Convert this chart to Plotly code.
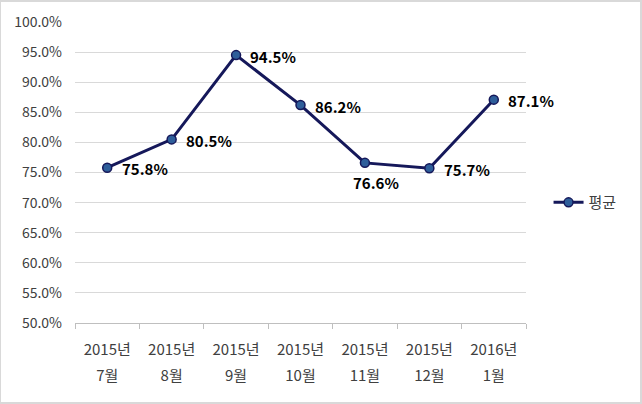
import plotly.graph_objects as go

years = ["2015년", "2015년", "2015년", "2015년", "2015년", "2015년", "2016년"]
months = ["7월", "8월", "9월", "10월", "11월", "12월", "1월"]
values = [0.758, 0.805, 0.945, 0.862, 0.766, 0.757, 0.871]
label_text = ["75.8%", "80.5%", "94.5%", "86.2%", "76.6%", "75.7%", "87.1%"]
label_dx = [13, 12, 12, 12, -14, 13, 12]
label_dy = [-1, -1, -1, -1, -20, -1, -1]
series_name = "평균"
y_ticks = [0.50 + 0.05 * i for i in range(11)]

n = len(values)
pos = list(range(n))
bounds = [i - 0.5 for i in range(n + 1)]
xr = [-0.5, n - 0.5]

font = "Noto Sans CJK KR, Malgun Gothic, sans-serif"

fig = go.Figure()
fig.add_trace(go.Scatter(
    x=pos, y=values, mode="lines+markers", name=series_name,
    line=dict(color="#15185A", width=3),
    marker=dict(size=9, color="#2E5E9A", line=dict(color="#15185A", width=1.5)),
))
# invisible helper traces for the label axes
fig.add_trace(go.Scatter(x=pos, y=values, xaxis="x2", mode="markers",
                         marker=dict(opacity=0), showlegend=False, hoverinfo="skip"))
fig.add_trace(go.Scatter(x=pos, y=values, xaxis="x3", mode="markers",
                         marker=dict(opacity=0), showlegend=False, hoverinfo="skip"))

for p, v, t, dx, dy in zip(pos, values, label_text, label_dx, label_dy):
    fig.add_annotation(x=p, y=v, text="<b>%s</b>" % t, showarrow=False,
                       xanchor="left", xshift=dx, yshift=dy,
                       font=dict(size=15, color="#000000", family=font))

tick_font = dict(size=15, color="#404040", family=font)
fig.update_layout(
    width=642, height=404,
    margin=dict(l=75, r=116, t=22, b=81),
    paper_bgcolor="white", plot_bgcolor="white",
    font=dict(family=font, size=13, color="#404040"),
    showlegend=True,
    legend=dict(x=1.05, y=0.40, xanchor="left", yanchor="middle",
                font=dict(size=15, color="#404040", family=font),
                bgcolor="rgba(0,0,0,0)"),
    xaxis=dict(range=xr, tickvals=bounds, ticktext=[""] * len(bounds),
               showgrid=False, showline=True, linecolor="#BFBFBF",
               linewidth=1, ticks="outside", ticklen=5, tickcolor="#BFBFBF",
               zeroline=False),
    xaxis2=dict(range=xr, overlaying="x", side="bottom", anchor="y",
                tickvals=pos, ticktext=years, showgrid=False, showline=False,
                ticks="", zeroline=False, ticklabelstandoff=16, tickfont=tick_font),
    xaxis3=dict(range=xr, overlaying="x", side="bottom", anchor="y",
                tickvals=pos, ticktext=months, showgrid=False, showline=False,
                ticks="", zeroline=False, ticklabelstandoff=42, tickfont=tick_font),
    yaxis=dict(range=[0.5, 1.0], tickvals=y_ticks, tickformat=".1%",
               showgrid=True, gridcolor="#D9D9D9", gridwidth=1,
               showline=False, zeroline=False, ticks="", ticklabelstandoff=12,
               tickfont=dict(size=14, color="#404040", family=font)),
    shapes=[dict(type="rect", xref="paper", yref="paper",
                 x0=-75/451, x1=1 + 115/451, y0=-80/301, y1=1 + 21/301,
                 line=dict(color="#D9D9D9", width=2))],
)

fig.write_html("out.html")
